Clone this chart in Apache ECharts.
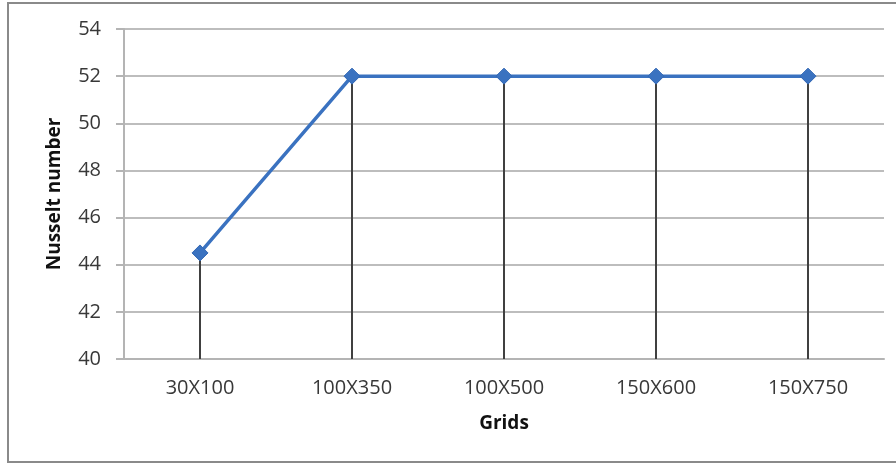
<!DOCTYPE html>
<html>
<head>
<meta charset="utf-8">
<script src="https://cdn.jsdelivr.net/npm/echarts@6/dist/echarts.min.js"></script>
<style>
  html, body { margin: 0; padding: 0; background: #ffffff; }
  #chart { width: 896px; height: 464px; }
</style>
</head>
<body>
<div id="chart"></div>
<script>
// Grid resolution study: Nusselt number for each mesh
const grids = ['30X100', '100X350', '100X500', '150X600', '150X750'];
const nusselt = [44.5, 52, 52, 52, 52];
const yTicks = [40, 42, 44, 46, 48, 50, 52, 54];

const labelFont = 'Open Sans';
const chart = echarts.init(document.getElementById('chart'), null, { renderer: 'canvas' });

chart.setOption({
  animation: false,
  backgroundColor: '#ffffff',
  graphic: [{
    type: 'rect',
    shape: { x: 8, y: 3, width: 900, height: 459 },
    style: { fill: 'none', stroke: '#8a8a8a', lineWidth: 2 },
    silent: true,
    z: -10
  }],
  grid: { left: 124, right: 12, top: 29, bottom: 105 },
  xAxis: {
    type: 'category',
    data: grids,
    boundaryGap: true,
    name: 'Grids',
    nameLocation: 'middle',
    nameGap: 55,
    nameTextStyle: { fontFamily: labelFont, fontWeight: 'bold', fontSize: 19, color: '#111111' },
    axisLine: { show: true, lineStyle: { color: '#b4b4b4', width: 2 } },
    axisTick: { show: false },
    axisLabel: { fontFamily: labelFont, fontSize: 20, color: '#383838', margin: 19 },
    splitLine: { show: false }
  },
  yAxis: {
    type: 'value',
    min: yTicks[0],
    max: yTicks[yTicks.length - 1],
    interval: yTicks[1] - yTicks[0],
    name: 'Nusselt number',
    nameLocation: 'middle',
    nameRotate: 90,
    nameGap: 60,
    nameTextStyle: { fontFamily: labelFont, fontWeight: 'bold', fontSize: 19, color: '#111111' },
    axisLine: { show: true, lineStyle: { color: '#b4b4b4', width: 2 } },
    axisTick: { show: true, length: 8, lineStyle: { color: '#b4b4b4', width: 2 } },
    axisLabel: { fontFamily: labelFont, fontSize: 20, color: '#383838', margin: 23 },
    splitLine: { show: true, lineStyle: { color: '#bdbdbd', width: 2 } }
  },
  series: [
    {
      // drop lines from each point down to the category axis
      type: 'bar',
      data: nusselt,
      barWidth: 2,
      itemStyle: { color: '#404040' },
      z: 2,
      silent: true
    },
    {
      type: 'line',
      data: nusselt,
      symbol: 'diamond',
      symbolSize: 16,
      lineStyle: { color: '#3a72c0', width: 3.5 },
      itemStyle: { color: '#3a72c0', borderColor: '#3368b4', borderWidth: 1 },
      z: 3
    }
  ]
});
</script>
</body>
</html>
